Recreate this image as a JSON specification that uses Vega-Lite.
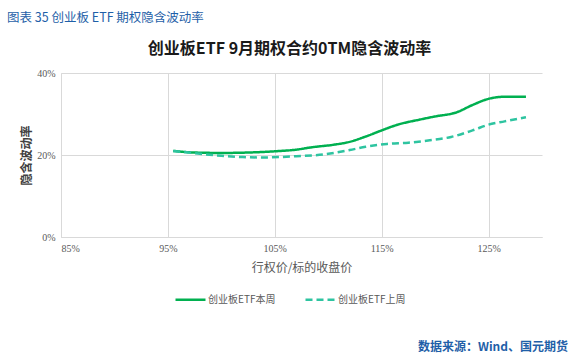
{
  "$schema": "https://vega.github.io/schema/vega-lite/v6.json",
  "padding": {"left": 7, "top": 11, "right": 5, "bottom": 0},
  "background": "white",
  "title": {
    "text": "数据来源：Wind、国元期货",
    "orient": "bottom",
    "anchor": "end",
    "frame": "bounds",
    "dx": 26,
    "font": "Noto Sans CJK SC",
    "fontSize": 12,
    "fontWeight": "bold",
    "color": "#1F5FA8",
    "offset": 37
  },
  "spacing": 12,
  "resolve": {"scale": {"color": "independent", "strokeDash": "independent"}},
  "config": {
    "view": {"stroke": null},
    "font": "Noto Sans CJK SC"
  },
  "vconcat": [
    {
      "width": 1,
      "height": 1,
      "data": {"values": []},
      "mark": {"type": "rule"},
      "encoding": {},
      "title": {
        "text": "图表 35  创业板 ETF 期权隐含波动率",
        "anchor": "start",
        "dx": -54,
        "font": "Noto Sans CJK SC",
        "fontSize": 12.5,
        "fontWeight": "normal",
        "color": "#1F5FA8",
        "offset": 4
      }
    },
    {
      "width": 481,
      "height": 164,
      "title": {
        "text": "创业板ETF  9月期权合约0TM隐含波动率",
        "anchor": "middle",
        "dx": -12,
        "font": "Noto Sans CJK SC",
        "fontSize": 16,
        "fontWeight": "bold",
        "color": "#1a1a1a",
        "offset": 11
      },
      "data": {
        "values": [
          {"k": 0.955, "v": 0.210, "s": "创业板ETF本周"},
          {"k": 0.975, "v": 0.206, "s": "创业板ETF本周"},
          {"k": 1.000, "v": 0.205, "s": "创业板ETF本周"},
          {"k": 1.025, "v": 0.206, "s": "创业板ETF本周"},
          {"k": 1.050, "v": 0.209, "s": "创业板ETF本周"},
          {"k": 1.070, "v": 0.213, "s": "创业板ETF本周"},
          {"k": 1.085, "v": 0.219, "s": "创业板ETF本周"},
          {"k": 1.105, "v": 0.225, "s": "创业板ETF本周"},
          {"k": 1.120, "v": 0.232, "s": "创业板ETF本周"},
          {"k": 1.135, "v": 0.245, "s": "创业板ETF本周"},
          {"k": 1.150, "v": 0.260, "s": "创业板ETF本周"},
          {"k": 1.165, "v": 0.274, "s": "创业板ETF本周"},
          {"k": 1.185, "v": 0.286, "s": "创业板ETF本周"},
          {"k": 1.200, "v": 0.294, "s": "创业板ETF本周"},
          {"k": 1.220, "v": 0.304, "s": "创业板ETF本周"},
          {"k": 1.235, "v": 0.322, "s": "创业板ETF本周"},
          {"k": 1.250, "v": 0.337, "s": "创业板ETF本周"},
          {"k": 1.265, "v": 0.342, "s": "创业板ETF本周"},
          {"k": 1.285, "v": 0.342, "s": "创业板ETF本周"},
          {"k": 0.955, "v": 0.210, "s": "创业板ETF上周"},
          {"k": 0.980, "v": 0.203, "s": "创业板ETF上周"},
          {"k": 1.000, "v": 0.198, "s": "创业板ETF上周"},
          {"k": 1.020, "v": 0.195, "s": "创业板ETF上周"},
          {"k": 1.040, "v": 0.194, "s": "创业板ETF上周"},
          {"k": 1.070, "v": 0.197, "s": "创业板ETF上周"},
          {"k": 1.095, "v": 0.201, "s": "创业板ETF上周"},
          {"k": 1.120, "v": 0.212, "s": "创业板ETF上周"},
          {"k": 1.135, "v": 0.220, "s": "创业板ETF上周"},
          {"k": 1.155, "v": 0.227, "s": "创业板ETF上周"},
          {"k": 1.175, "v": 0.230, "s": "创业板ETF上周"},
          {"k": 1.195, "v": 0.236, "s": "创业板ETF上周"},
          {"k": 1.215, "v": 0.244, "s": "创业板ETF上周"},
          {"k": 1.235, "v": 0.260, "s": "创业板ETF上周"},
          {"k": 1.250, "v": 0.274, "s": "创业板ETF上周"},
          {"k": 1.265, "v": 0.282, "s": "创业板ETF上周"},
          {"k": 1.285, "v": 0.292, "s": "创业板ETF上周"}
        ]
      },
      "mark": {"type": "line", "interpolate": "monotone", "strokeWidth": 2.5},
      "encoding": {
        "x": {
          "field": "k",
          "type": "quantitative",
          "scale": {"domain": [0.85, 1.3], "nice": false, "zero": false},
          "axis": {
            "values": [0.85, 0.95, 1.05, 1.15, 1.25],
            "format": ".0%",
            "title": "行权价/标的收盘价",
            "titleFont": "Noto Sans CJK SC",
            "titleFontSize": 12,
            "titleFontWeight": "normal",
            "titleColor": "#595959",
            "titlePadding": 9,
            "labelFont": "Liberation Sans Narrow",
            "labelFontSize": 10,
            "labelColor": "#595959",
            "labelPadding": 6,
            "ticks": false,
            "domainColor": "#D9D9D9",
            "gridColor": "#D9D9D9",
            "labelOverlap": false
          }
        },
        "y": {
          "field": "v",
          "type": "quantitative",
          "scale": {"domain": [0, 0.4], "nice": false},
          "axis": {
            "values": [0, 0.2, 0.4],
            "format": ".0%",
            "title": "隐含波动率",
            "titleFont": "Noto Sans CJK SC",
            "titleFontSize": 12,
            "titleFontWeight": "bold",
            "titleColor": "#404040",
            "titlePadding": 3,
            "labelFont": "Liberation Sans Narrow",
            "labelFontSize": 10,
            "labelColor": "#595959",
            "labelPadding": 6,
            "ticks": false,
            "domainColor": "#D9D9D9",
            "gridColor": "#D9D9D9"
          }
        },
        "color": {
          "field": "s",
          "type": "nominal",
          "scale": {"domain": ["创业板ETF本周", "创业板ETF上周"], "range": ["#00B050", "#2EC4A0"]},
          "legend": {
            "title": null,
            "orient": "none",
            "legendX": 113,
            "legendY": 210,
            "direction": "horizontal",
            "symbolType": "stroke",
            "symbolSize": 900,
            "symbolStrokeWidth": 2.5,
            "labelFont": "Noto Sans CJK SC",
            "labelFontSize": 10,
            "labelColor": "#595959",
            "labelOffset": 1,
            "columnPadding": 24
          }
        },
        "strokeDash": {
          "field": "s",
          "type": "nominal",
          "scale": {"domain": ["创业板ETF本周", "创业板ETF上周"], "range": [[1, 0], [7, 4]]},
          "legend": {
            "title": null,
            "orient": "none",
            "legendX": 113,
            "legendY": 210,
            "direction": "horizontal",
            "symbolType": "stroke",
            "symbolSize": 900,
            "symbolStrokeWidth": 2.5,
            "labelFont": "Noto Sans CJK SC",
            "labelFontSize": 10,
            "labelColor": "#595959",
            "labelOffset": 1,
            "columnPadding": 24
          }
        }
      }
    }
  ]
}
